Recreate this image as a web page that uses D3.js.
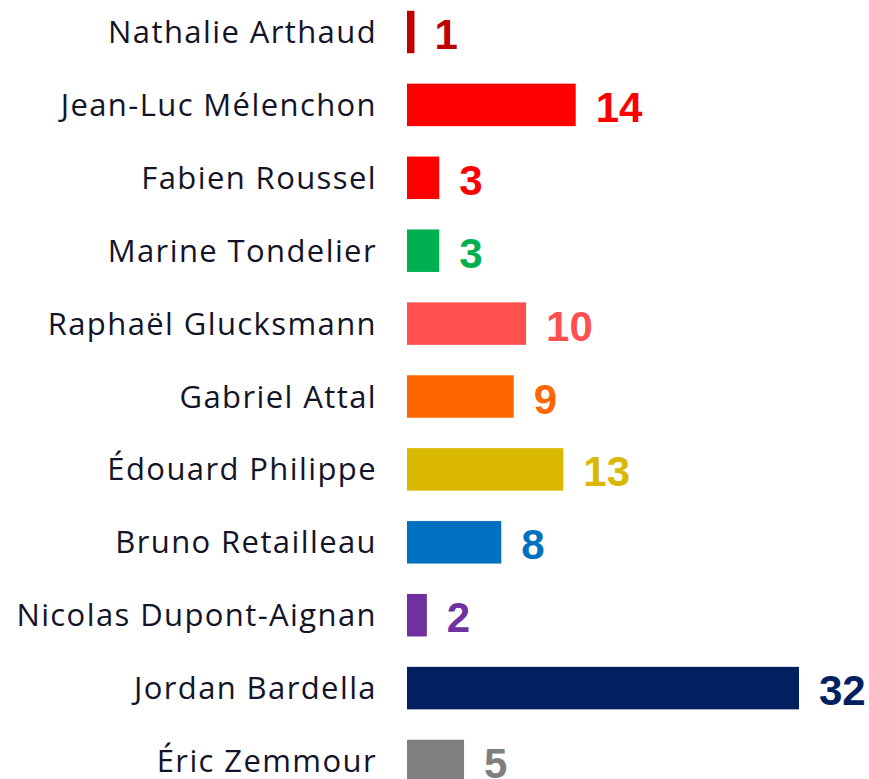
<!DOCTYPE html>
<html><head><meta charset="utf-8">
<script src="https://cdn.jsdelivr.net/npm/d3@7"></script>
<style>html,body{margin:0;padding:0;background:#fff;overflow:hidden}</style>
</head><body>
<svg id="chart" width="869" height="779"></svg>
<script>
const candidates = ["Nathalie Arthaud","Jean-Luc Mélenchon","Fabien Roussel","Marine Tondelier","Raphaël Glucksmann","Gabriel Attal","Édouard Philippe","Bruno Retailleau","Nicolas Dupont-Aignan","Jordan Bardella","Éric Zemmour"];
const values = [1,14,3,3,10,9,13,8,2,32,5];
const colors = ["#c00000","#ff0000","#ff0000","#00b050","#ff5050","#ff6600","#dbb800","#0070c0","#7030a0","#002060","#7f7f7f"];

const data = candidates.map((c,i)=>({name:c, value:values[i], color:colors[i]}));
const svg = d3.select("#chart");

const x = d3.scaleLinear().domain([0.4, 32]).range([407, 799]);
const y = d3.scaleBand().domain(candidates).range([-4.45, 797.45]).paddingInner(0.417).paddingOuter(0.2085);

const row = svg.selectAll("g.row").data(data).join("g").attr("class","row");

row.append("rect")
  .attr("x", x(0.4))
  .attr("y", d=>y(d.name))
  .attr("width", d=>x(d.value)-x(0.4))
  .attr("height", y.bandwidth())
  .attr("fill", d=>d.color);

row.append("text")
  .attr("x", 377)
  .attr("y", d=>y(d.name)+y.bandwidth()/2+11)
  .attr("text-anchor","end")
  .attr("font-family","'Open Sans', sans-serif")
  .attr("font-size", 31)
  .attr("letter-spacing", 1.4)
  .attr("fill","#141428")
  .text(d=>d.name);

row.append("text")
  .attr("x", d=>x(d.value)+20)
  .attr("y", d=>y(d.name)+y.bandwidth()/2+17)
  .attr("font-family","'Liberation Sans', Arial, sans-serif")
  .attr("font-weight","bold")
  .attr("font-size", 42)
  .attr("fill", d=>d.color)
  .text(d=>d.value);
</script>
</body></html>
